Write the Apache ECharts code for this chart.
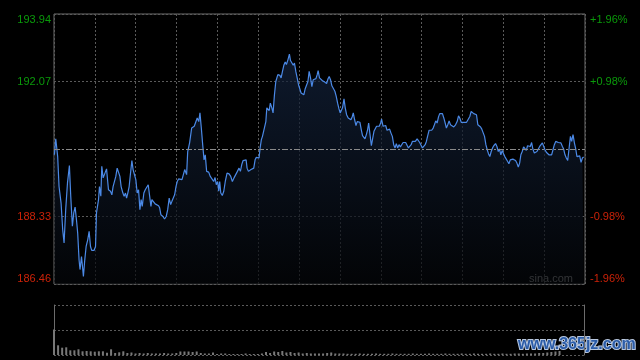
<!DOCTYPE html>
<html><head><meta charset="utf-8">
<script src="https://cdn.jsdelivr.net/npm/echarts@6/dist/echarts.min.js"></script>
<style>html,body{margin:0;padding:0;background:#000;}#c{width:640px;height:360px;}</style>
</head><body><div id="c"></div>
<script>
// minutes since the open (0..390)
const times = [
0.3,1.3,2.7,3.7,5.2,6.4,7.4,8.6,9.9,11.3,
12.3,13.5,14.5,15.5,16.5,17.4,18.4,19.1,20.2,20.9,
21.6,22.6,23.6,24.8,25.8,26.8,27.7,29.4,30.5,31.2,
32.7,33.4,34.4,35.1,36.1,37.5,38.6,39.3,40.0,41.5,
42.5,43.4,44.5,45.4,46.4,47.4,48.4,49.3,50.6,51.5,
52.5,53.3,54.2,55.2,56.2,57.2,58.1,59.2,60.1,61.1,
62.1,63.1,64.0,64.8,66.0,67.0,68.2,69.2,70.2,71.2,
71.9,73.1,74.3,75.6,76.8,77.6,78.5,80.0,81.2,82.4,
83.5,84.6,85.7,86.6,87.6,88.6,89.6,90.5,91.5,92.7,
94.0,95.2,96.0,97.4,98.2,99.6,101.1,102.1,103.0,104.3,
105.2,106.3,107.2,108.2,109.2,110.2,111.1,112.1,113.6,114.8,
116.0,117.3,118.3,119.2,120.2,121.0,121.7,122.5,123.6,124.7,
125.8,127.1,128.6,129.8,131.0,132.2,133.5,134.7,135.9,136.9,
137.9,138.9,140.1,141.1,141.8,142.8,143.8,144.7,145.7,146.7,
147.7,148.6,149.7,150.6,151.4,152.3,153.1,154.3,155.6,156.3,
157.0,158.0,158.9,160.0,160.9,161.9,162.9,164.4,165.9,166.8,
167.8,168.8,169.8,170.7,171.8,172.9,173.7,174.7,175.7,176.6,
177.6,178.6,179.6,180.6,181.5,182.5,183.5,184.5,185.4,186.5,
187.4,188.4,189.4,190.4,191.3,192.4,193.3,194.0,195.0,196.3,
197.2,198.7,200.2,201.2,202.1,203.1,204.1,205.3,206.3,207.3,
208.3,209.3,210.2,211.2,211.9,213.0,213.9,214.9,216.1,217.1,
218.1,219.1,219.8,220.8,221.8,222.7,223.7,224.7,225.7,226.6,
227.7,228.4,229.4,230.3,231.1,232.1,233.1,234.0,235.0,236.0,
236.9,238.0,238.9,239.9,240.6,241.7,242.6,243.6,244.6,245.6,
246.5,247.5,248.5,249.5,250.5,251.4,252.4,253.4,254.4,255.3,
256.4,257.3,258.3,259.3,260.3,261.2,262.3,263.2,264.2,265.4,
266.7,267.6,268.6,269.6,270.6,271.5,272.6,273.5,274.5,275.5,
276.5,277.4,278.5,279.4,280.4,281.4,282.4,283.3,284.3,285.3,
286.3,287.3,288.2,289.2,290.2,291.2,293.6,294.9,296.1,297.1,
298.0,299.1,300.2,301.5,303.0,304.2,305.4,306.4,307.4,308.3,
309.4,310.3,311.3,312.3,313.3,314.2,315.2,316.2,317.2,318.2,
319.1,320.1,321.1,322.1,323.0,324.3,325.3,326.3,327.2,328.2,
329.2,330.2,331.1,332.2,333.1,334.1,335.1,336.1,337.0,338.1,
339.0,340.0,341.0,342.0,342.9,343.9,344.9,345.9,346.9,347.8,
348.8,349.8,350.8,351.7,352.8,353.7,354.7,355.7,356.7,357.6,
358.7,359.6,360.6,361.6,362.6,363.5,364.6,365.5,366.5,367.5,
368.5,369.4,370.4,371.4,372.3,373.4,374.3,375.3,376.3,377.3,
378.2,379.3,380.2,381.2,382.2,383.2,384.1,385.1,386.1,387.1,
388.1,389.0
];
const prices = [
190.04,190.48,189.99,189.16,188.70,187.96,187.60,188.52,189.26,189.74,
188.89,188.06,188.43,188.59,188.24,187.87,187.13,186.86,187.22,186.95,
186.67,187.13,187.50,187.69,187.92,187.50,187.39,187.39,187.50,188.43,
188.80,189.16,188.89,189.72,189.40,189.44,189.65,189.67,189.07,189.03,
188.93,189.16,189.21,189.44,189.67,189.63,189.44,189.16,188.98,188.89,
188.98,188.84,188.98,189.16,189.53,189.88,189.63,189.58,189.35,188.98,
189.07,188.52,188.80,188.61,188.98,189.07,189.12,189.21,189.16,188.61,
188.80,188.75,188.68,188.66,188.63,188.57,188.38,188.33,188.26,188.33,
188.52,188.84,188.66,188.75,188.70,188.93,189.16,189.30,189.37,189.35,
189.35,189.52,189.63,189.49,190.13,190.37,190.78,190.73,190.83,190.85,
191.06,190.96,191.20,190.78,190.32,189.90,190.04,189.58,189.56,189.44,
189.40,189.30,189.41,189.21,189.30,189.03,189.30,188.98,188.91,189.03,
189.30,189.53,189.51,189.44,189.30,189.40,189.40,189.58,189.67,189.58,
189.77,189.88,189.86,189.90,189.67,189.58,189.53,189.63,189.58,189.67,
189.90,189.97,189.97,189.95,190.23,190.46,190.55,190.60,190.96,191.34,
191.38,191.26,191.47,191.34,191.20,191.70,192.07,192.26,192.24,192.17,
192.35,192.52,192.61,192.54,192.67,192.83,192.65,192.67,192.52,192.58,
192.35,192.17,191.98,191.96,191.75,191.73,191.70,191.87,191.84,192.07,
192.35,192.17,191.93,192.12,192.17,192.15,192.26,192.37,192.17,192.12,
192.09,192.06,192.01,192.14,192.21,192.12,191.95,191.92,191.80,191.66,
191.47,191.31,191.20,191.17,191.34,191.59,191.34,191.15,191.06,191.10,
191.01,191.10,191.20,191.01,190.85,190.96,190.92,190.94,190.73,190.57,
190.53,190.48,190.60,190.73,190.92,190.60,190.29,190.48,190.69,190.64,
190.83,190.87,190.83,190.92,191.03,190.83,190.87,190.85,190.72,190.72,
190.75,190.64,190.55,190.32,190.23,190.35,190.23,190.32,190.26,190.23,
190.38,190.41,190.38,190.37,190.23,190.18,190.32,190.41,190.44,190.41,
190.48,190.44,190.38,190.41,190.23,190.27,190.32,190.41,190.57,190.72,
190.69,190.72,190.78,190.87,190.98,190.92,191.09,191.18,191.20,191.18,
191.06,190.92,190.78,190.87,190.98,190.87,190.81,190.87,190.96,191.12,
191.06,190.94,190.92,190.94,190.94,190.96,191.10,191.24,191.27,191.18,
191.18,191.15,190.87,190.85,190.81,190.75,190.72,190.55,190.32,190.18,
190.07,189.99,190.13,190.23,190.29,190.35,190.27,190.13,190.20,190.04,
190.16,190.07,189.99,190.03,189.86,189.79,189.90,189.95,189.92,189.95,
189.88,189.81,189.70,189.81,190.04,190.13,190.26,190.29,190.16,190.29,
190.32,190.27,190.38,190.20,190.09,190.09,190.13,190.20,190.27,190.32,
190.37,190.32,190.18,190.11,190.07,190.04,190.07,190.04,190.18,190.32,
190.41,190.41,190.38,190.41,190.37,190.27,190.20,190.04,189.95,189.88,
189.83,190.55,190.41,190.60,190.37,190.20,189.99,189.95,190.01,189.83,
189.95,189.98
];
// tick labels (the previous-close tick in the middle carries no label)
const leftLabels = ['186.46','188.33','','192.07','193.94'];
const rightLabels = ['-1.96%','-0.98%','','+0.98%','+1.96%'];
const prevClose = 190.20;
const priceMin = 186.46, priceMax = 193.94, priceStep = 1.87;
// volume, one value every 3 minutes
const volStep = 3;
const volumes = [
25.5,9.7,7.3,7.7,4.7,4.7,5.7,3.7,4,3.7,
3.3,3.7,3.7,2.3,5.7,2,2.7,3.7,2,2.5,
1.5,2,1.5,2,1.5,1.5,1.5,2,1.5,1.5,
2,3.5,3.5,3.5,3,3.5,2,1.5,1.5,2.5,
1,1.5,1.5,1,1,1,1,1.5,1,1,
1,1.5,3,2,3.5,3,4,2.5,3,2,
2.5,1.5,2,1.5,1.5,1.5,1.5,2,2.5,1.5,
1.5,1.5,1.2,1.2,1.2,1.5,1.2,1.2,1.2,1.5,
1.2,1.2,1.2,1.5,1.2,1.2,1.2,1.2,1.5,1.2,
1.2,1.2,1.5,1.2,1.2,1.2,1.5,1.2,1.2,1.2,
1.5,1.2,1.2,1.5,1.2,1.2,1.2,1.5,1.2,1.2,
1.5,1.2,1.2,1.5,1.5,1.2,1.5,1.5,1.5,2,
2,2.5,3,3.5,4
];

const green = '#0a9a0a', red = '#cc2208';
const fontFam = '"Liberation Sans", Arial, sans-serif';
const chart = echarts.init(document.getElementById('c'), null, {renderer: 'canvas'});

function lbl(arr) {
  return function (v, i) {
    const s = arr[i];
    if (!s) return '';
    return (i >= 3 ? '{g|' : '{r|') + s + '}';
  };
}
const rich = {g: {color: green, fontSize: 11, fontFamily: fontFam}, r: {color: red, fontSize: 11, fontFamily: fontFam}};

const option = {
  backgroundColor: '#000',
  animation: false,
  grid: [
    {left: 54, right: 55, top: 14, height: 270, show: true, borderColor: '#6c6c6c', borderWidth: 1, backgroundColor: 'transparent'},
    {left: 54, right: 56, top: 305, height: 50}
  ],
  xAxis: [
    {type: 'value', gridIndex: 0, min: 0, max: 390, interval: 30,
     axisLine: {show: false}, axisTick: {show: false}, axisLabel: {show: false},
     splitLine: {show: true, lineStyle: {color: '#5a5a5a', type: [2, 2], width: 1}}},
    {type: 'value', gridIndex: 1, min: 0, max: 390, interval: 30,
     axisLine: {show: false}, axisTick: {show: false}, axisLabel: {show: false}, splitLine: {show: false}}
  ],
  yAxis: [
    {type: 'value', gridIndex: 0, min: priceMin, max: priceMax, interval: priceStep, position: 'left',
     axisLine: {show: false}, axisTick: {show: false},
     axisLabel: {margin: 3, formatter: lbl(leftLabels), rich: rich, verticalAlignMaxLabel: 'top', verticalAlignMinLabel: 'bottom'},
     splitLine: {show: true, lineStyle: {color: '#5a5a5a', type: [2, 2], width: 1}}},
    {type: 'value', gridIndex: 0, min: priceMin, max: priceMax, interval: priceStep, position: 'right',
     axisLine: {show: false}, axisTick: {show: false},
     axisLabel: {margin: 5, formatter: lbl(rightLabels), rich: rich, verticalAlignMaxLabel: 'top', verticalAlignMinLabel: 'bottom'},
     splitLine: {show: false}},
    {type: 'value', gridIndex: 1, min: 0, max: 50, interval: 25, position: 'left',
     axisLine: {show: true, lineStyle: {color: '#6c6c6c'}}, axisTick: {show: false}, axisLabel: {show: false},
     splitLine: {show: true, lineStyle: {color: '#5a5a5a', type: [2, 2], width: 1}}},
    {type: 'value', gridIndex: 1, min: 0, max: 50, position: 'right',
     axisLine: {show: true, lineStyle: {color: '#6c6c6c'}}, axisTick: {show: false}, axisLabel: {show: false},
     splitLine: {show: false}}
  ],
  series: [
    {type: 'line', xAxisIndex: 0, yAxisIndex: 0, showSymbol: false, symbol: 'none',
     data: times.map((t, i) => [t, prices[i]]),
     lineStyle: {color: '#4b89e6', width: 1.2},
     areaStyle: {origin: 'start', color: new echarts.graphic.LinearGradient(0, 0, 0, 1, [
       {offset: 0, color: '#14243f'}, {offset: 1, color: '#040609'}])},
     markLine: {silent: true, symbol: 'none', label: {show: false},
       lineStyle: {color: '#8a8a8a', type: [6, 2, 2, 2], width: 1},
       data: [{yAxis: prevClose}]}
    },
    {type: 'bar', xAxisIndex: 1, yAxisIndex: 2, barWidth: 2,
     data: volumes.map((v, i) => [i * volStep, v]),
     itemStyle: {color: '#787878'}}
  ],
  graphic: [
    {type: 'text', right: 67, top: 273, style: {text: 'sina.com', fill: '#9a9a9a', font: '11px ' + fontFam}},
    {type: 'text', left: 517, top: 336, style: {text: 'www.365jz.com', fill: '#2b5ca8', stroke: '#b8c8e0', lineWidth: 2, font: 'bold 16px ' + fontFam}}
  ]
};
chart.setOption(option);
</script>
</body></html>
